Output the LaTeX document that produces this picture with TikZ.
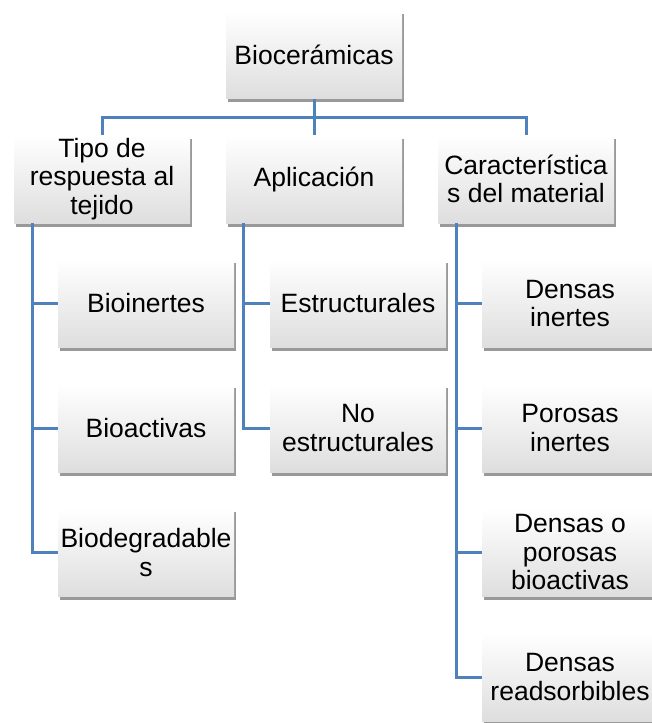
\documentclass[tikz,border=0pt]{standalone}
\usepackage{fontspec}
\setmainfont{Liberation Sans}
\usetikzlibrary{shadows}
\definecolor{linkblue}{RGB}{79,129,189}
\begin{document}
\begin{tikzpicture}
[x=1pt,y=-1pt,
box/.style={rectangle,minimum width=176pt,minimum height=88pt,inner sep=2pt,align=center,
  top color=white,bottom color=black!13,
  drop shadow={shadow xshift=1.5pt,shadow yshift=-3.5pt,fill=black,opacity=.4},
  font=\fontsize{26.5}{28.5}\selectfont},
link/.style={draw=linkblue,line width=3pt}]
\useasboundingbox (0,0) rectangle (652,723);
\node[box] (bio) at (314,54.5) {Biocerámicas};
\node[box] (tipo) at (102,179) {Tipo de\\respuesta al\\tejido};
\node[box] (apl) at (314,179) {Aplicación};
\node[box] (car) at (526,179) {Característica\\s del material};
\node[box] (bioin) at (146,303.5) {Bioinertes};
\node[box] (bioac) at (146,428) {Bioactivas};
\node[box] (biodeg) at (146,552.5) {Biodegradable\\s};
\node[box] (estr) at (358,303.5) {Estructurales};
\node[box] (noestr) at (358,428) {No\\estructurales};
\node[box] (dinert) at (570,303.5) {Densas\\inertes};
\node[box] (pinert) at (570,428) {Porosas\\inertes};
\node[box] (dpbio) at (570,552.5) {Densas o\\porosas\\bioactivas};
\node[box] (dread) at (570,677) {Densas\\readsorbibles};
\coordinate (bus) at (314,117);
\coordinate (ta) at (32,223);
\coordinate (ap) at (243,223);
\coordinate (ca) at (456,223);
\path[link] (bio) -- (bus);
\path[link] (bus) -| (tipo) (bus) -| (apl) (bus) -| (car);
\path[link] (ta) |- (bioin) (ta) |- (bioac) (ta) |- (biodeg);
\path[link] (ap) |- (estr) (ap) |- (noestr);
\path[link] (ca) |- (dinert) (ca) |- (pinert) (ca) |- (dpbio) (ca) |- (dread);
\end{tikzpicture}
\end{document}
